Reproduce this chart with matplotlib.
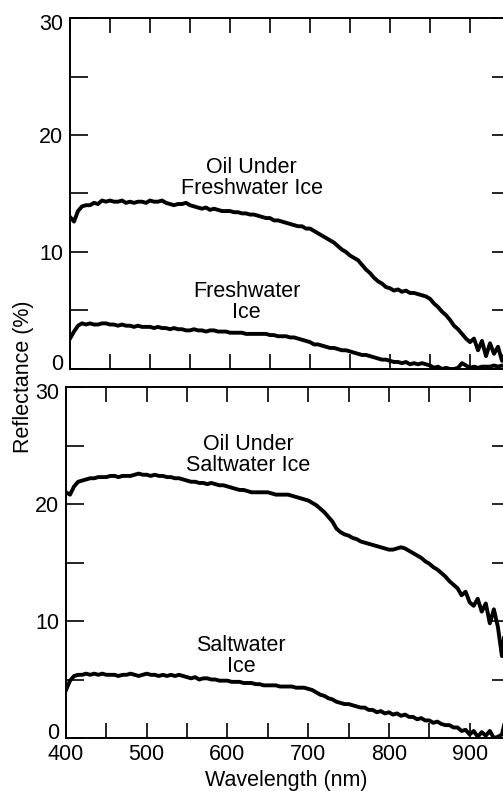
import numpy as np
import matplotlib
matplotlib.use('Agg')
import matplotlib.pyplot as plt
import matplotlib.transforms as mtransforms
from matplotlib.ticker import MultipleLocator

plt.rcParams['font.family'] = ['Liberation Sans', 'DejaVu Sans']

# wavelength grid, nm (every 5 nm)
wl = np.arange(400, 951, 5)

# oil under freshwater ice, reflectance %
oil_fresh = [13.0, 12.6, 13.5, 13.9, 14.0, 14.0, 14.2, 14.1, 14.4, 14.3,
             14.4, 14.3, 14.3, 14.4, 14.2, 14.3, 14.2, 14.3, 14.3, 14.2,
             14.4, 14.3, 14.3, 14.4, 14.2, 14.1, 14.0, 14.1, 14.1, 14.2,
             14.0, 13.9, 13.8, 13.7, 13.8, 13.6, 13.7, 13.6, 13.5, 13.5,
             13.5, 13.4, 13.4, 13.3, 13.3, 13.2, 13.2, 13.1, 13.0, 12.9,
             12.9, 12.7, 12.7, 12.6, 12.5, 12.4, 12.3, 12.2, 12.2, 12.0,
             12.0, 11.8, 11.6, 11.4, 11.2, 11.0, 10.8, 10.5, 10.2, 10.0,
             9.7, 9.5, 9.3, 8.9, 8.5, 8.2, 7.8, 7.5, 7.3, 7.0,
             6.9, 6.7, 6.8, 6.6, 6.7, 6.5, 6.5, 6.4, 6.3, 6.2,
             6.0, 5.6, 5.3, 4.9, 4.6, 4.2, 3.7, 3.4, 3.0, 2.6,
             2.3, 2.6, 1.6, 2.4, 1.1, 2.2, 1.3, 1.9, 0.7, 1.5, 1.0]

# freshwater ice
fresh_ice = [2.6, 3.2, 3.7, 3.9, 3.8, 3.9, 3.8, 3.8, 3.9, 3.9,
             3.8, 3.8, 3.7, 3.8, 3.7, 3.7, 3.6, 3.7, 3.6, 3.6,
             3.6, 3.5, 3.6, 3.5, 3.5, 3.4, 3.5, 3.4, 3.4, 3.3,
             3.3, 3.4, 3.3, 3.3, 3.2, 3.3, 3.3, 3.2, 3.2, 3.2,
             3.1, 3.1, 3.1, 3.1, 3.0, 3.0, 3.0, 3.0, 3.0, 3.0,
             2.9, 2.9, 2.8, 2.8, 2.8, 2.7, 2.7, 2.6, 2.5, 2.4,
             2.3, 2.1, 2.1, 2.0, 1.9, 1.8, 1.8, 1.7, 1.6, 1.6,
             1.5, 1.4, 1.3, 1.2, 1.2, 1.1, 1.0, 0.9, 0.8, 0.8,
             0.7, 0.6, 0.6, 0.5, 0.6, 0.4, 0.5, 0.4, 0.5, 0.4,
             0.3, 0.1, 0.2, 0.0, 0.1, 0.0, 0.0, 0.1, 0.5, 0.3,
             0.1, 0.2, 0.1, 0.2, 0.2, 0.2, 0.3, 0.2, 0.3, 0.2, 0.3]

# oil under saltwater ice
oil_salt = [21.0, 20.8, 21.5, 21.9, 22.0, 22.1, 22.2, 22.2, 22.3, 22.3,
            22.3, 22.4, 22.4, 22.3, 22.4, 22.4, 22.4, 22.5, 22.6, 22.5,
            22.5, 22.4, 22.5, 22.4, 22.4, 22.3, 22.3, 22.2, 22.2, 22.1,
            22.0, 21.9, 21.9, 21.8, 21.8, 21.7, 21.8, 21.7, 21.6, 21.6,
            21.5, 21.4, 21.3, 21.2, 21.2, 21.1, 21.0, 21.0, 21.0, 21.0,
            21.0, 20.9, 20.8, 20.8, 20.8, 20.8, 20.7, 20.6, 20.5, 20.4,
            20.3, 20.1, 19.9, 19.6, 19.3, 18.9, 18.5, 17.9, 17.6, 17.4,
            17.3, 17.1, 17.0, 16.8, 16.7, 16.6, 16.5, 16.4, 16.3, 16.2,
            16.1, 16.1, 16.2, 16.3, 16.2, 16.0, 15.8, 15.6, 15.4, 15.1,
            14.9, 14.6, 14.4, 14.1, 13.8, 13.4, 13.1, 12.8, 12.2, 12.5,
            11.6, 11.3, 11.9, 10.8, 11.5, 9.8, 11.0, 9.5, 7.0, 10.0, 10.5]

# saltwater ice
salt_ice = [4.1, 4.9, 5.3, 5.4, 5.4, 5.5, 5.4, 5.5, 5.4, 5.5,
            5.4, 5.4, 5.4, 5.3, 5.4, 5.4, 5.5, 5.4, 5.3, 5.4,
            5.5, 5.4, 5.4, 5.3, 5.4, 5.3, 5.4, 5.3, 5.4, 5.3,
            5.2, 5.1, 5.2, 5.0, 5.1, 5.1, 5.0, 5.0, 4.9, 4.9,
            4.9, 4.8, 4.8, 4.8, 4.7, 4.7, 4.7, 4.6, 4.6, 4.5,
            4.5, 4.5, 4.5, 4.4, 4.4, 4.4, 4.4, 4.3, 4.3, 4.3,
            4.2, 4.1, 3.9, 3.7, 3.6, 3.4, 3.3, 3.1, 3.0, 2.9,
            2.9, 2.8, 2.7, 2.6, 2.6, 2.4, 2.4, 2.2, 2.3, 2.1,
            2.2, 2.0, 2.1, 1.9, 2.0, 1.8, 1.8, 1.6, 1.7, 1.5,
            1.5, 1.3, 1.4, 1.2, 1.1, 1.1, 0.9, 0.9, 0.6, 0.7,
            0.3, 0.6, 0.1, 0.5, 0.2, 0.6, 0.0, 0.1, 0.3, 1.8, 2.2]

W, H = 503, 791
fig = plt.figure(figsize=(W/100, H/100), dpi=100)

# axes in pixels: left, right, top, bottom (right spine falls off the page)
ax1 = fig.add_axes([70/W, (H-369)/H, 440/W, 351/H])
ax2 = fig.add_axes([66/W, (H-738)/H, 444/W, 351/H])

def style(ax, xlabels):
    ax.set_xlim(400, 950)
    ax.set_ylim(0, 30)
    ax.xaxis.set_major_locator(MultipleLocator(100))
    ax.xaxis.set_minor_locator(MultipleLocator(50))
    ax.yaxis.set_major_locator(MultipleLocator(10))
    ax.yaxis.set_minor_locator(MultipleLocator(5))
    ax.tick_params(axis='x', which='both', direction='in', top=True, bottom=True,
                   length=11, width=1.2, labelsize=15.5, pad=4, labelbottom=xlabels)
    ax.tick_params(axis='y', which='both', direction='in', left=True, right=True,
                   length=13, width=1.2, labelsize=15.5, pad=5)
    for s in ax.spines.values():
        s.set_linewidth(1.4)
    # nudge the end labels like the original: 0 sits a bit high, 30 a bit low
    fig.canvas.draw()
    for lab in ax.get_yticklabels():
        if lab.get_text() == '0':
            dy = 5/72
        elif lab.get_text() == '30':
            dy = -3/72
        else:
            continue
        lab.set_transform(lab.get_transform() +
                          mtransforms.ScaledTranslation(0, dy, fig.dpi_scale_trans))

ax1.plot(wl, oil_fresh, 'k', lw=2.8)
ax1.plot(wl, fresh_ice, 'k', lw=2.8)
ax1.text(627, 16.3, 'Oil Under\nFreshwater Ice', ha='center', va='center',
         fontsize=15.5, linespacing=1.0)
ax1.text(621, 5.7, 'Freshwater\nIce', ha='center', va='center',
         fontsize=15.5, linespacing=1.0)

ax2.plot(wl, oil_salt, 'k', lw=2.8)
ax2.plot(wl, salt_ice, 'k', lw=2.8)
ax2.text(626, 24.2, 'Oil Under\nSaltwater Ice', ha='center', va='center',
         fontsize=15.5, linespacing=1.0)
ax2.text(617, 7.0, 'Saltwater\nIce', ha='center', va='center',
         fontsize=15.5, linespacing=1.0)

style(ax1, False)
style(ax2, True)

fig.text(24/W, (H-377)/H, 'Reflectance (%)', rotation=90, ha='center', va='center',
         fontsize=15.5)
fig.text(286/W, (H-786)/H, 'Wavelength (nm)', ha='center', va='baseline', fontsize=15.5)

fig.savefig('out.png', dpi=100)
